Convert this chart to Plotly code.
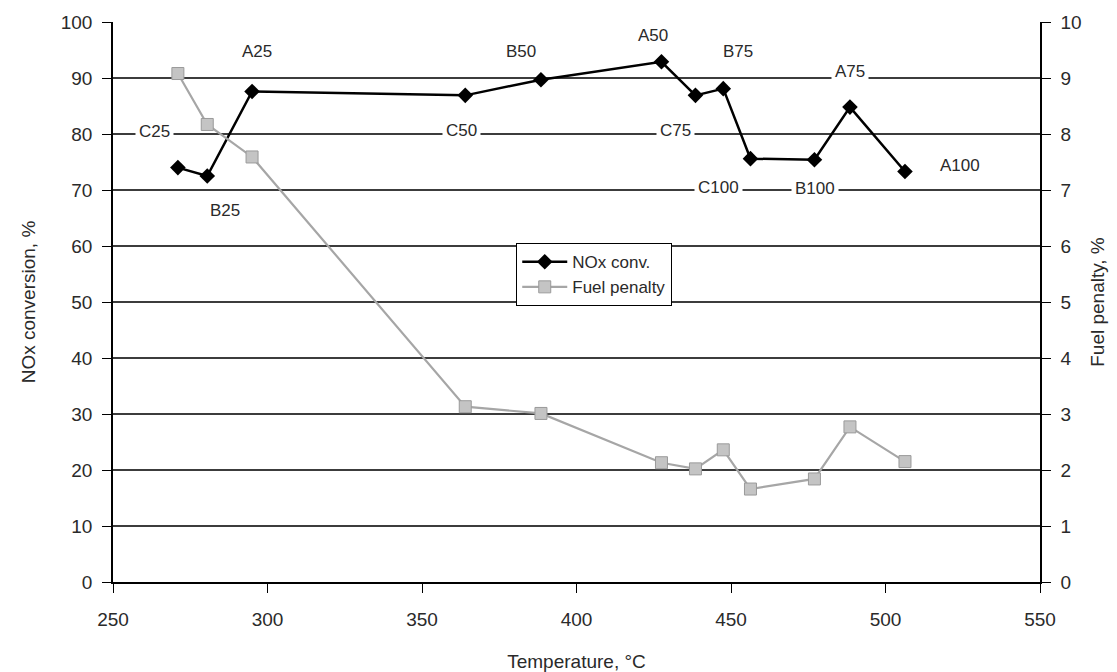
import plotly.graph_objects as go

temperature = [271, 280.5, 295, 364, 388.5, 427.5, 438.5, 447.5, 456.3, 477, 488.5, 506.3]
nox_conv = [74.0, 72.5, 87.6, 86.9, 89.7, 92.9, 86.9, 88.1, 75.6, 75.4, 84.8, 73.3]
fuel_penalty = [9.08, 8.17, 7.59, 3.13, 3.01, 2.13, 2.02, 2.36, 1.66, 1.84, 2.77, 2.15]

label_text = ["A25", "C25", "B25", "C50", "B50", "A50", "B75", "C75", "C100", "A75", "B100", "A100"]
label_x = [296.5, 263.3, 286.2, 362.8, 381.9, 424.9, 452.3, 432.0, 445.9, 488.5, 477.2, 524.0]
label_y = [94.8, 80.5, 66.3, 80.7, 94.8, 97.6, 94.8, 80.7, 70.4, 91.2, 70.2, 74.4]

x_ticks = [250, 300, 350, 400, 450, 500, 550]
y_ticks = list(range(0, 101, 10))
y2_ticks = list(range(0, 11))

FONT = "Liberation Sans, Arial, sans-serif"
TXT = "#2a2a2a"

fig = go.Figure()
fig.add_trace(go.Scatter(
    x=temperature, y=nox_conv, name="NOx conv.", mode="lines+markers",
    line=dict(color="black", width=2.5),
    marker=dict(symbol="diamond", size=12, color="black"),
    yaxis="y",
))
fig.add_trace(go.Scatter(
    x=temperature, y=fuel_penalty, name="Fuel penalty", mode="lines+markers",
    line=dict(color="#a6a6a6", width=2.2),
    marker=dict(symbol="square", size=12, color="#c4c4c4", line=dict(color="#9a9a9a", width=1)),
    yaxis="y2",
))

for t, x, y in zip(label_text, label_x, label_y):
    fig.add_annotation(x=x, y=y, xref="x", yref="y", text=t, showarrow=False,
                       font=dict(family=FONT, size=17, color=TXT),
                       bgcolor="white", borderpad=3)

fig.update_layout(
    width=1117, height=672,
    margin=dict(l=113, r=72, t=18, b=90),
    paper_bgcolor="white", plot_bgcolor="white",
    font=dict(family=FONT, size=19, color=TXT),
    showlegend=True,
    legend=dict(x=0.435, y=0.605, xanchor="left", yanchor="top",
                bgcolor="white", bordercolor="black", borderwidth=1,
                font=dict(family=FONT, size=17, color=TXT),
                tracegroupgap=0, itemwidth=45),
    xaxis=dict(range=[250, 550], tickvals=x_ticks, ticks="outside", ticklen=9,
               tickcolor="black", showline=True, linecolor="black", linewidth=1.5,
               showgrid=False, zeroline=False, ticklabelstandoff=10, automargin=False,
               tickfont=dict(family=FONT, size=19, color=TXT),
               title=dict(text="Temperature, °C", standoff=26,
                          font=dict(family=FONT, size=19, color=TXT))),
    yaxis=dict(range=[0, 100], tickvals=y_ticks, ticks="outside", ticklen=9,
               tickcolor="black", showline=True, linecolor="black", linewidth=1.5,
               showgrid=True, gridcolor="#3c3c3c", gridwidth=1.8, zeroline=False,
               ticklabelstandoff=6,
               tickfont=dict(family=FONT, size=19, color=TXT),
               title=dict(text="NOx conversion, %", standoff=20,
                          font=dict(family=FONT, size=19, color=TXT))),
    yaxis2=dict(range=[0, 10], tickvals=y2_ticks, ticks="outside", ticklen=9,
                tickcolor="black", showline=True, linecolor="black", linewidth=1.5,
                overlaying="y", side="right", showgrid=False, zeroline=False,
                ticklabelstandoff=6,
                tickfont=dict(family=FONT, size=19, color=TXT),
                title=dict(text="Fuel penalty, %", standoff=10,
                           font=dict(family=FONT, size=19, color=TXT))),
)

fig.write_html("out.html")
